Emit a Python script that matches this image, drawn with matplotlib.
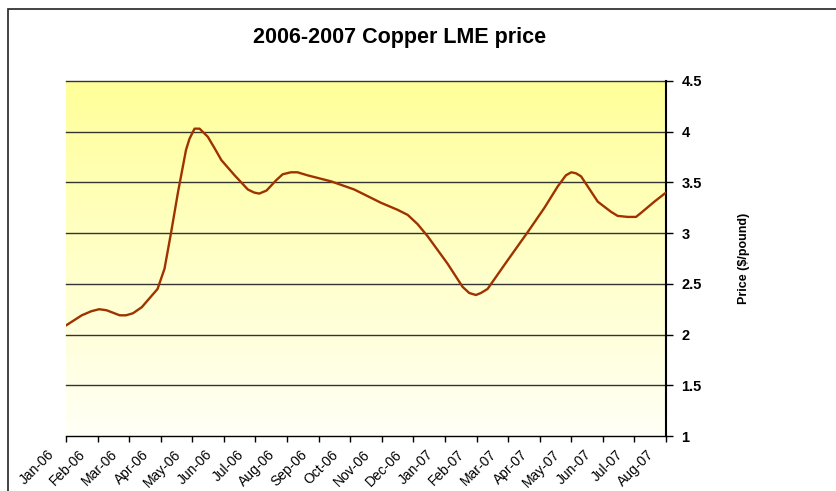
"""2006-2007 Copper LME price, smoothed line on a yellow gradient plot area."""
import numpy as np
import matplotlib
matplotlib.use("Agg")
import matplotlib.pyplot as plt
import matplotlib.transforms as mtransforms
from matplotlib.colors import LinearSegmentedColormap
from matplotlib.patches import Rectangle

plt.rcParams["font.family"] = ["Liberation Sans", "DejaVu Sans"]

# month index (0 = Jan-06) and price in $/pound
month_pos = [0, 0.5, 0.8, 1.05, 1.28, 1.45, 1.7, 1.9, 2.12, 2.4, 2.65, 2.9,
             3.12, 3.33, 3.55, 3.8, 3.91, 4.07, 4.23, 4.49, 4.7, 4.92, 5.34,
             5.76, 5.96, 6.12, 6.35, 6.65, 6.86, 7.12, 7.33, 7.65, 8.4,
             9.13, 9.97, 10.5, 10.82, 11.13, 11.45, 12.08, 12.56, 12.77,
             12.98, 13.14, 13.35, 13.98, 14.62, 15.15, 15.57, 15.83, 16.0,
             16.15, 16.31, 16.84, 17.26, 17.47, 17.79, 18.05, 18.21, 18.63,
             19.0]
price = [2.09, 2.19, 2.23, 2.25, 2.24, 2.22, 2.19, 2.19, 2.21, 2.27, 2.36, 2.45,
         2.65, 3.01, 3.41, 3.82, 3.93, 4.03, 4.03, 3.95, 3.84, 3.72, 3.57,
         3.43, 3.40, 3.39, 3.42, 3.52, 3.58, 3.60, 3.60, 3.57, 3.51,
         3.43, 3.30, 3.23, 3.18, 3.09, 2.97, 2.70, 2.47, 2.41,
         2.39, 2.41, 2.45, 2.73, 3.01, 3.25, 3.46, 3.57, 3.60,
         3.59, 3.56, 3.31, 3.21, 3.17, 3.16, 3.16, 3.20, 3.31,
         3.40]

month_labels = ["Jan-06", "Feb-06", "Mar-06", "Apr-06", "May-06", "Jun-06",
                "Jul-06", "Aug-06", "Sep-06", "Oct-06", "Nov-06", "Dec-06",
                "Jan-07", "Feb-07", "Mar-07", "Apr-07", "May-07", "Jun-07",
                "Jul-07", "Aug-07"]
y_ticks = [1, 1.5, 2, 2.5, 3, 3.5, 4, 4.5]

W, H = 836, 491
fig = plt.figure(figsize=(W / 100, H / 100), dpi=100)
ax = fig.add_axes([66 / W, 1 - 436 / H, 600 / W, 355 / H])

# plot-area gradient: pale at the bottom, yellow at the top
cmap = LinearSegmentedColormap.from_list("bg", ["#FFFFF6", "#FFFF99"])
grad = np.linspace(0, 1, 256).reshape(-1, 1)
ax.imshow(grad, cmap=cmap, aspect="auto", origin="lower",
          extent=[0, 1, 0, 1], transform=ax.transAxes, zorder=0)

for v in y_ticks[1:]:
    ax.axhline(v, color="#333333", linewidth=1, zorder=1, clip_on=False)

ax.plot(month_pos, price, color="#9E3300", linewidth=1.7, zorder=3,
        solid_joinstyle="round", solid_capstyle="round")

ax.set_xlim(0, 19)
ax.set_ylim(1, 4.5)

ax.yaxis.tick_right()
ax.yaxis.set_label_position("right")
ax.set_yticks(y_ticks)
ax.set_yticklabels([f"{v:g}" for v in y_ticks], fontsize=10.5, fontweight="bold")
ax.set_ylabel("Price ($/pound)", fontsize=9, fontweight="bold", labelpad=26)

ax.tick_params(axis="x", direction="out", length=4, width=1, pad=2)
ax.tick_params(axis="y", direction="out", length=5, width=1, pad=6)

ax.set_xticks(range(len(month_labels)))
ax.set_xticklabels(month_labels, fontsize=10, rotation=45, ha="right")
# Excel puts the rotated labels a little left of / below their ticks
offset = mtransforms.ScaledTranslation(-0.09, -0.03, fig.dpi_scale_trans)
for lbl in ax.get_xticklabels():
    lbl.set_transform(lbl.get_transform() + offset)

for side in ("left", "top"):
    ax.spines[side].set_visible(False)
ax.spines["bottom"].set_linewidth(1)
ax.spines["right"].set_linewidth(1.5)

fig.text(400 / W, 1 - 38 / H, "2006-2007 Copper LME price", ha="center",
         va="center", fontsize=15.5, fontweight="bold")

# chart-area border (runs off the right and bottom edges)
fig.patches.append(Rectangle((8 / W, -0.1), 1.2, 1 - 9 / H + 0.1,
                             transform=fig.transFigure, fill=False,
                             edgecolor="#222222", linewidth=1.2))

fig.savefig("out.png", dpi=100)
